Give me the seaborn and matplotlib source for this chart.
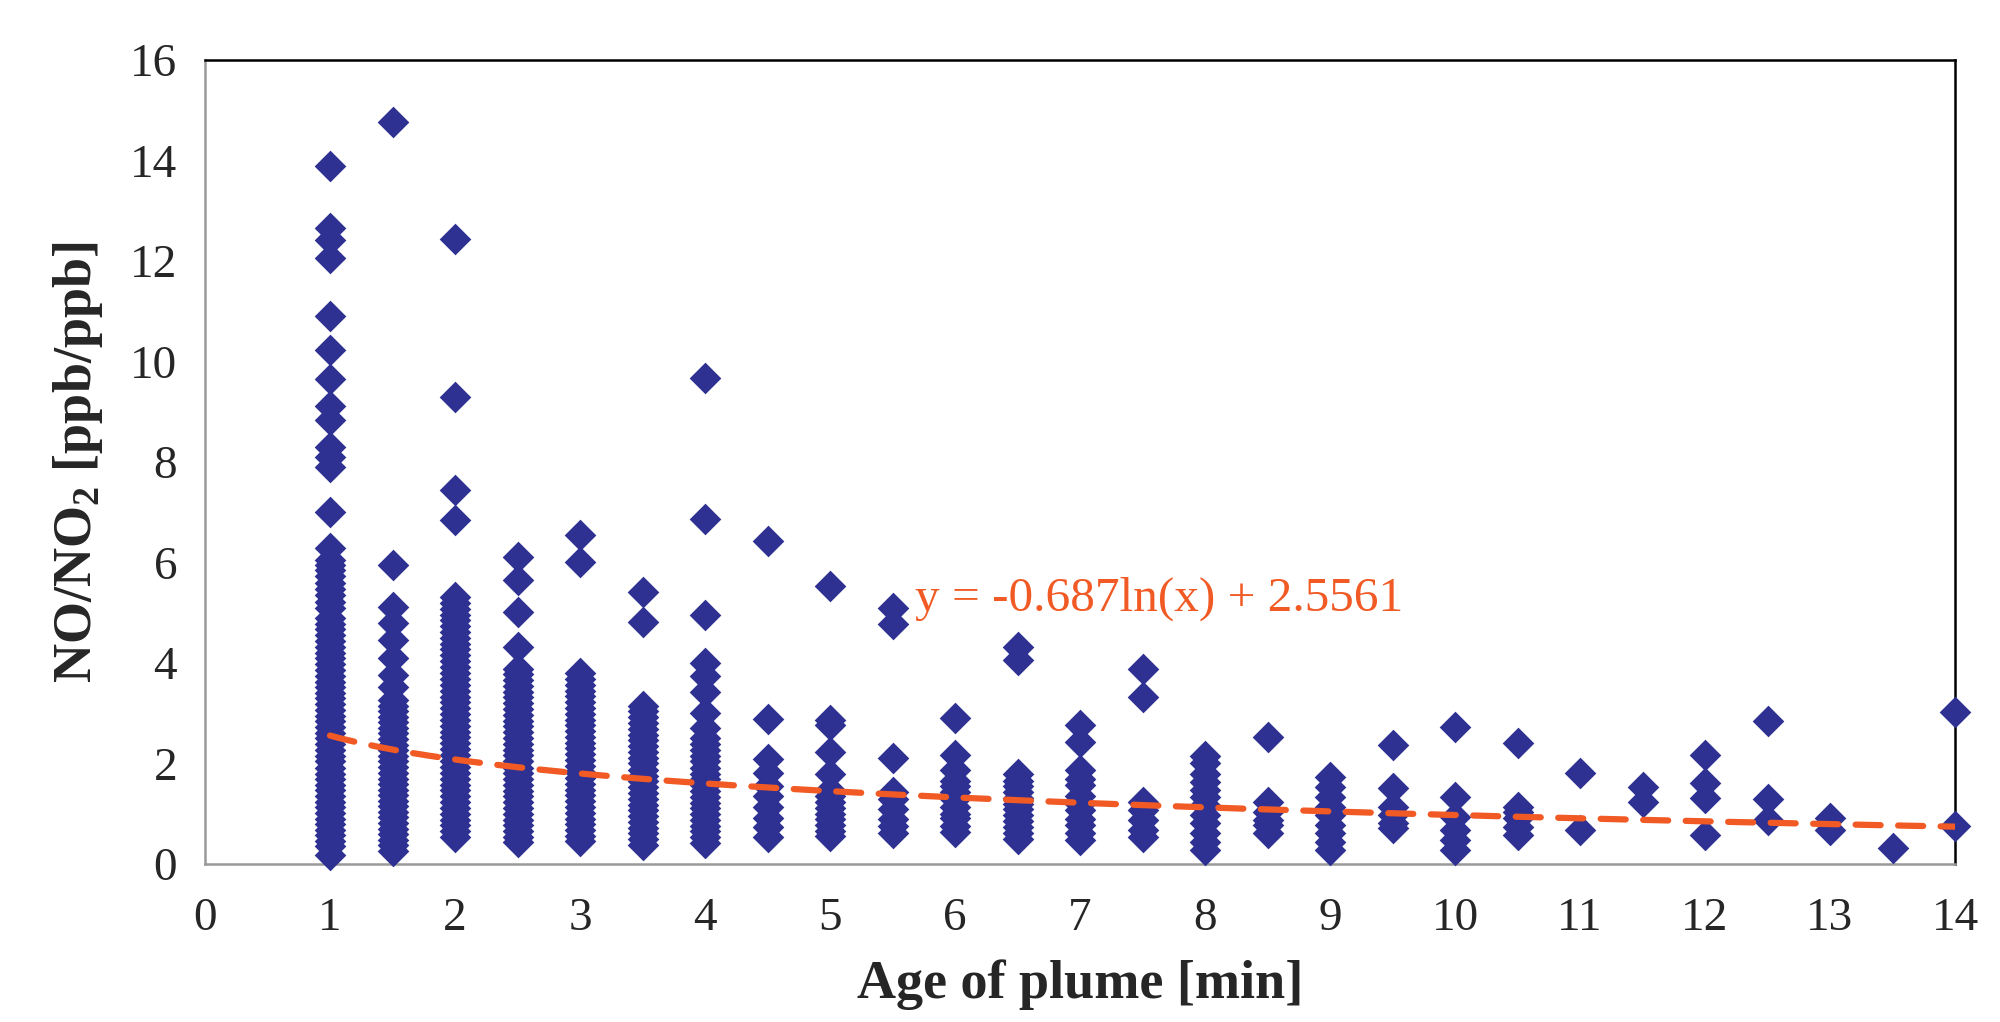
import numpy as np
import pandas as pd
import matplotlib
matplotlib.use("Agg")
import matplotlib.pyplot as plt
import seaborn as sns

# NO/NO2 vs edad de la pluma
y_1_0 = [13.9, 12.65, 12.42, 12.05, 10.9, 10.22, 9.66, 9.12, 8.83, 8.3, 8.1, 7.9, 7.0, 6.28,
         6.05, 5.95, 5.85, 5.73, 5.6, 5.47, 5.35, 5.22, 5.1, 4.89, 4.78, 4.67, 4.55, 4.44,
         4.32, 4.2, 4.1, 3.98, 3.86, 3.75, 3.63, 3.52, 3.4, 3.3, 3.18, 3.07, 2.95, 2.84,
         2.72, 2.6, 2.5, 2.38, 2.26, 2.15, 2.04, 1.92, 1.8, 1.7, 1.58, 1.47, 1.36, 1.24,
         1.13, 1.02, 0.9, 0.8, 0.68, 0.57, 0.45, 0.35, 0.18]
y_1_5 = [14.77, 5.95, 5.12, 4.79, 4.46, 4.09, 3.76, 3.53, 3.26, 3.15, 3.04, 2.93, 2.82,
         2.7, 2.6, 2.48, 2.37, 2.26, 2.15, 2.04, 1.93, 1.82, 1.7, 1.6, 1.48, 1.37, 1.26,
         1.15, 1.04, 0.93, 0.82, 0.7, 0.6, 0.48, 0.37, 0.25]
y_2_0 = [12.43, 9.3, 7.45, 6.85, 5.32, 5.2, 5.08, 4.96, 4.85, 4.73, 4.62, 4.5, 4.38, 4.27,
         4.15, 4.03, 3.92, 3.8, 3.68, 3.57, 3.45, 3.33, 3.22, 3.1, 2.98, 2.87, 2.75, 2.63,
         2.52, 2.4, 2.28, 2.17, 2.05, 1.93, 1.82, 1.7, 1.58, 1.47, 1.35, 1.23, 1.12, 1.0,
         0.88, 0.77, 0.65, 0.53]
y_2_5 = [6.1, 5.65, 5.02, 4.32, 3.89, 3.78, 3.66, 3.55, 3.43, 3.32, 3.2, 3.08, 2.97, 2.85,
         2.74, 2.62, 2.5, 2.39, 2.27, 2.16, 2.04, 1.92, 1.81, 1.7, 1.58, 1.46, 1.35, 1.23,
         1.12, 1.0, 0.88, 0.77, 0.65, 0.54, 0.43]
y_3_0 = [6.54, 6.01, 3.8, 3.68, 3.57, 3.45, 3.34, 3.22, 3.1, 2.99, 2.87, 2.76, 2.64, 2.52,
         2.41, 2.3, 2.18, 2.06, 1.95, 1.83, 1.72, 1.6, 1.48, 1.37, 1.25, 1.14, 1.02, 0.9,
         0.79, 0.67, 0.56, 0.45]
y_3_5 = [5.42, 4.82, 3.15, 3.04, 2.92, 2.8, 2.69, 2.57, 2.46, 2.34, 2.22, 2.11, 2.0, 1.88,
         1.76, 1.65, 1.53, 1.42, 1.3, 1.18, 1.07, 0.96, 0.84, 0.72, 0.61, 0.49, 0.37]
y_4_0 = [9.68, 6.87, 4.95, 4.0, 3.75, 3.42, 3.0, 2.7, 2.5, 2.38, 2.27, 2.15, 2.04, 1.92,
         1.8, 1.69, 1.57, 1.46, 1.34, 1.22, 1.11, 1.0, 0.88, 0.76, 0.65, 0.53, 0.42]
y_4_5 = [6.42, 2.88, 2.08, 1.82, 1.56, 1.36, 1.14, 0.92, 0.74, 0.54]
y_5_0 = [5.53, 2.87, 2.76, 2.22, 1.8, 1.47, 1.36, 1.24, 1.12, 1.0, 0.9, 0.78, 0.66, 0.55]
y_5_5 = [5.1, 4.78, 2.11, 1.43, 1.29, 1.1, 0.9, 0.75, 0.62]
y_6_0 = [2.91, 2.17, 1.88, 1.66, 1.55, 1.43, 1.3, 1.14, 1.0, 0.92, 0.75, 0.63]
y_6_5 = [4.32, 4.05, 1.8, 1.66, 1.55, 1.43, 1.32, 1.2, 1.1, 0.98, 0.86, 0.74, 0.62, 0.5]
y_7_0 = [2.76, 2.43, 1.88, 1.7, 1.58, 1.36, 1.2, 1.07, 0.9, 0.77, 0.62, 0.48]
y_7_5 = [3.88, 3.32, 1.24, 1.07, 0.88, 0.68, 0.54]
y_8_0 = [2.14, 2.0, 1.8, 1.64, 1.47, 1.34, 1.17, 0.98, 0.81, 0.61, 0.44, 0.28]
y_8_5 = [2.52, 1.24, 1.04, 0.88, 0.78, 0.61]
y_9_0 = [1.74, 1.54, 1.34, 1.14, 0.98, 0.78, 0.61, 0.44, 0.28]
y_9_5 = [2.37, 1.51, 1.14, 0.98, 0.81, 0.71]
y_10_0 = [2.73, 1.34, 0.94, 0.68, 0.48, 0.28]
y_10_5 = [2.4, 1.14, 1.04, 0.91, 0.74, 0.58]
y_11_0 = [1.82, 0.68]
y_11_5 = [1.54, 1.24]
y_12_0 = [2.16, 1.61, 1.31, 0.58]
y_12_5 = [2.85, 1.29, 0.88]
y_13_0 = [0.91, 0.68]
y_13_5 = [0.31]
y_14_0 = [3.03, 0.76]

ages = [1.0, 1.5, 2.0, 2.5, 3.0, 3.5, 4.0, 4.5, 5.0, 5.5, 6.0, 6.5, 7.0, 7.5,
        8.0, 8.5, 9.0, 9.5, 10.0, 10.5, 11.0, 11.5, 12.0, 12.5, 13.0, 13.5, 14.0]
columns = [y_1_0, y_1_5, y_2_0, y_2_5, y_3_0, y_3_5, y_4_0, y_4_5, y_5_0, y_5_5,
           y_6_0, y_6_5, y_7_0, y_7_5, y_8_0, y_8_5, y_9_0, y_9_5, y_10_0, y_10_5,
           y_11_0, y_11_5, y_12_0, y_12_5, y_13_0, y_13_5, y_14_0]

# coeficientes de la linea de tendencia logaritmica (del grafico)
trend_a = -0.687
trend_b = 2.5561

df = pd.DataFrame(
    [(a, v) for a, col in zip(ages, columns) for v in col], columns=["age", "ratio"]
)

sns.set_style("white")
plt.rcParams["font.family"] = ["Liberation Serif", "DejaVu Serif"]
plt.rcParams["mathtext.fontset"] = "custom"
plt.rcParams["mathtext.rm"] = "Liberation Serif"
plt.rcParams["mathtext.bf"] = "Liberation Serif:bold"

fig = plt.figure(figsize=(20, 10.22), dpi=100)
ax = fig.add_axes([0.1025, 0.1546, 0.875, 0.7867])

navy = "#2E3192"
orange = "#F15A24"

sns.scatterplot(data=df, x="age", y="ratio", marker="D", s=260, color=navy,
                edgecolor=navy, linewidth=0, ax=ax, clip_on=False, zorder=3)

x_fit = np.linspace(1, 14, 200)
ax.plot(x_fit, trend_a * np.log(x_fit) + trend_b, color=orange, lw=4.5,
        ls=(0, (4, 2.8)), dash_capstyle="round", zorder=4)

ax.text(5.68, 5.27, "y = -0.687ln(x) + 2.5561", color=orange, fontsize=35.5,
        va="center", ha="left")

ax.set_xlim(0, 14)
ax.set_ylim(0, 16)
ax.set_xticks(range(0, 15))
ax.set_yticks(range(0, 17, 2))
ax.tick_params(axis="both", labelsize=34, length=12, width=1.5, color="#999999",
               direction="out", pad=8)
ax.tick_params(axis="x", pad=12)

for side in ["left", "bottom"]:
    ax.spines[side].set_color("#999999")
    ax.spines[side].set_linewidth(1.8)
for side in ["top", "right"]:
    ax.spines[side].set_color("black")
    ax.spines[side].set_linewidth(1.8)

ax.set_xlabel("Age of plume [min]", fontsize=39, fontweight="bold", labelpad=14)
ax.set_ylabel(r"NO/NO$_\mathbf{2}$ [ppb/ppb]", fontsize=39, fontweight="bold", labelpad=18)

fig.savefig("out.png", dpi=100, facecolor="white")
